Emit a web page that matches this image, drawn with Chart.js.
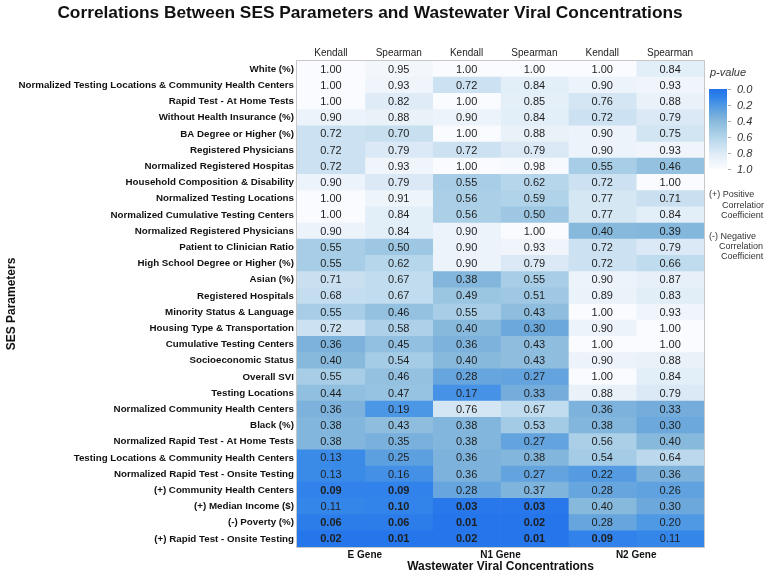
<!DOCTYPE html>
<html><head><meta charset="utf-8">
<script src="https://cdn.jsdelivr.net/npm/chart.js@4"></script>
<style>html,body{margin:0;padding:0;background:#fff}</style>
</head><body>
<canvas id="c" width="764" height="574" style="display:block;width:764px;height:574px"></canvas>
<script>
const rowLabels = [
  'White (%)',
  'Normalized Testing Locations & Community Health Centers',
  'Rapid Test - At Home Tests',
  'Without Health Insurance (%)',
  'BA Degree or Higher (%)',
  'Registered Physicians',
  'Normalized Registered Hospitas',
  'Household Composition & Disability',
  'Normalized Testing Locations',
  'Normalized Cumulative Testing Centers',
  'Normalized Registered Physicians',
  'Patient to Clinician Ratio',
  'High School Degree or Higher (%)',
  'Asian (%)',
  'Registered Hospitals',
  'Minority Status & Language',
  'Housing Type & Transportation',
  'Cumulative Testing Centers',
  'Socioeconomic Status',
  'Overall SVI',
  'Testing Locations',
  'Normalized Community Health Centers',
  'Black (%)',
  'Normalized Rapid Test - At Home Tests',
  'Testing Locations & Community Health Centers',
  'Normalized Rapid Test - Onsite Testing',
  '(+) Community Health Centers',
  '(+) Median Income ($)',
  '(-) Poverty (%)',
  '(+) Rapid Test - Onsite Testing'
];
const eKendall   = [1.00,1.00,1.00,0.90,0.72,0.72,0.72,0.90,1.00,1.00,0.90,0.55,0.55,0.71,0.68,0.55,0.72,0.36,0.40,0.55,0.44,0.36,0.38,0.38,0.13,0.13,0.09,0.11,0.06,0.02];
const eSpearman  = [0.95,0.93,0.82,0.88,0.70,0.79,0.93,0.79,0.91,0.84,0.84,0.50,0.62,0.67,0.67,0.46,0.58,0.45,0.54,0.46,0.47,0.19,0.43,0.35,0.25,0.16,0.09,0.10,0.06,0.01];
const n1Kendall  = [1.00,0.72,1.00,0.90,1.00,0.72,1.00,0.55,0.56,0.56,0.90,0.90,0.90,0.38,0.49,0.55,0.40,0.36,0.40,0.28,0.17,0.76,0.38,0.38,0.36,0.36,0.28,0.03,0.01,0.02];
const n1Spearman = [1.00,0.84,0.85,0.84,0.88,0.79,0.98,0.62,0.59,0.50,1.00,0.93,0.79,0.55,0.51,0.43,0.30,0.43,0.43,0.27,0.33,0.67,0.53,0.27,0.38,0.27,0.37,0.03,0.02,0.01];
const n2Kendall  = [1.00,0.90,0.76,0.72,0.90,0.90,0.55,0.72,0.77,0.77,0.40,0.72,0.72,0.90,0.89,1.00,0.90,1.00,0.90,1.00,0.88,0.36,0.38,0.56,0.54,0.22,0.28,0.40,0.28,0.09];
const n2Spearman = [0.84,0.93,0.88,0.79,0.75,0.93,0.46,1.00,0.71,0.84,0.39,0.79,0.66,0.87,0.83,0.93,1.00,1.00,0.88,0.84,0.79,0.33,0.30,0.40,0.64,0.36,0.26,0.30,0.20,0.11];
const methodLabels = ['Kendall','Spearman','Kendall','Spearman','Kendall','Spearman'];
const geneLabels = ['E Gene','N1 Gene','N2 Gene'];
const legendTicks = [0.0, 0.2, 0.4, 0.6, 0.8, 1.0];

const columns = [eKendall, eSpearman, n1Kendall, n1Spearman, n2Kendall, n2Spearman];
const FAMILY = '"Liberation Sans", Arial, Helvetica, sans-serif';

// colour scale stops (p-value -> rgb)
const stops = [
  [0.00,[35,115,235]],[0.10,[50,132,234]],[0.20,[78,152,228]],[0.30,[108,168,220]],
  [0.40,[135,185,220]],[0.50,[157,199,227]],[0.60,[178,212,234]],[0.70,[200,223,240]],
  [0.80,[220,234,246]],[0.90,[236,243,250]],[1.00,[249,251,254]]
];
function colorFor(v){
  v = Math.max(0, Math.min(1, v));
  for (let i=1;i<stops.length;i++){
    if (v <= stops[i][0]){
      const [a,ca]=stops[i-1],[b,cb]=stops[i];
      const t=(v-a)/(b-a);
      const c=ca.map((x,k)=>Math.round(x+(cb[k]-x)*t));
      return `rgb(${c[0]},${c[1]},${c[2]})`;
    }
  }
  return 'rgb(249,251,254)';
}

const heatPlugin = {
  id:'heat',
  afterDatasetsDraw(chart){
    const ctx = chart.ctx, ca = chart.chartArea;
    ctx.save();
    ctx.strokeStyle = '#c8c8c8'; ctx.lineWidth = 1;
    ctx.strokeRect(ca.left-0.5, ca.top-0.5, ca.right-ca.left+1, ca.bottom-ca.top+1);
    ctx.textAlign = 'center'; ctx.textBaseline = 'middle';
    chart.data.datasets.forEach((ds, di) => {
      const meta = chart.getDatasetMeta(di);
      meta.data.forEach((el, i) => {
        const v = ds.pValues[i];
        ctx.font = (v <= 0.10 ? 'bold ' : '') + '11px ' + FAMILY;
        ctx.fillStyle = '#1e1e1e';
        ctx.fillText(v.toFixed(2), (el.x + el.base)/2, el.y + 0.5);
      });
    });
    ctx.restore();
  },
  afterDraw(chart){
    const ctx = chart.ctx, ca = chart.chartArea;
    ctx.save();
    // title
    ctx.fillStyle = '#111';
    ctx.font = 'bold 17.3px ' + FAMILY;
    ctx.textAlign = 'center'; ctx.textBaseline = 'middle';
    ctx.fillText('Correlations Between SES Parameters and Wastewater Viral Concentrations', chart.width/2 - 12, 13);
    // legend
    const lx = ca.right + 5;
    ctx.textAlign = 'left';
    ctx.font = 'italic 11px ' + FAMILY;
    ctx.fillStyle = '#333';
    ctx.fillText('p-value', lx + 1, ca.top + 12);
    const barTop = ca.top + 28, barH = 80, barW = 18;
    for (let k = 0; k < barH; k++){
      ctx.fillStyle = colorFor(k/(barH-1));
      ctx.fillRect(lx, barTop + k, barW, 1);
    }
    ctx.strokeStyle = '#aaa'; ctx.lineWidth = 1;
    ctx.font = 'italic 11px ' + FAMILY;
    ctx.fillStyle = '#333';
    legendTicks.forEach(t => {
      const y = barTop + t*barH;
      ctx.beginPath(); ctx.moveTo(lx+barW+1, Math.round(y)+0.5); ctx.lineTo(lx+barW+4, Math.round(y)+0.5); ctx.stroke();
      ctx.fillText(t.toFixed(1), lx + 28, y + 0.5);
    });
    // annotations
    ctx.font = '9px ' + FAMILY;
    ctx.fillStyle = '#333';
    const notes = [
      ['(+) Positive', 0, 134], ['Correlation', 13, 145], ['Coefficient', 12, 155],
      ['(-) Negative', 0, 176], ['Correlation', 10, 186], ['Coefficient', 12, 196]
    ];
    notes.forEach(([t, dx, dy]) => ctx.fillText(t, lx + dx, ca.top + dy));
    ctx.restore();
  }
};

new Chart(document.getElementById('c'), {
  type: 'bar',
  data: {
    labels: rowLabels,
    datasets: columns.map((vals, j) => ({
      label: methodLabels[j],
      data: vals.map(() => [j, j + 1]),
      pValues: vals,
      backgroundColor: vals.map(colorFor),
      borderWidth: 0,
      grouped: false,
      barPercentage: 1,
      categoryPercentage: 1
    }))
  },
  options: {
    indexAxis: 'y',
    responsive: false,
    animation: false,
    layout: { padding: { top: 0, right: 60, bottom: 0, left: 0 } },
    plugins: { legend: { display: false }, tooltip: { enabled: false }, title: { display: false } },
    scales: {
      y: {
        type: 'category',
        position: 'left',
        grid: { display: false, drawTicks: false },
        border: { display: false },
        ticks: { autoSkip: false, padding: 3, color: '#111', font: { family: FAMILY, size: 9.75, weight: 'bold' } },
        title: { display: true, text: 'SES Parameters', color: '#111', font: { family: FAMILY, size: 12, weight: 'bold' }, padding: { top: 4, bottom: 4 } },
        afterFit: s => { s.width = 297; }
      },
      x: {
        type: 'linear',
        position: 'bottom',
        min: 0, max: 6,
        grid: { display: false, drawTicks: false },
        border: { display: false },
        afterBuildTicks: s => { s.ticks = geneLabels.map((g, i) => ({ value: 2*i + 1 })); },
        ticks: { autoSkip: false, maxRotation: 0, padding: 2, color: '#111', font: { family: FAMILY, size: 10, weight: 'bold' }, callback: (v, i) => geneLabels[i] },
        title: { display: true, text: 'Wastewater Viral Concentrations', color: '#111', font: { family: FAMILY, size: 12, weight: 'bold' }, padding: { top: 0, bottom: 0 } },
        afterFit: s => { s.height = 27; }
      },
      x2: {
        type: 'linear',
        axis: 'x',
        position: 'top',
        min: 0, max: 6,
        grid: { display: false, drawTicks: false },
        border: { display: false },
        afterBuildTicks: s => { s.ticks = methodLabels.map((m, i) => ({ value: i + 0.5 })); },
        ticks: { autoSkip: false, maxRotation: 0, padding: 2, color: '#222', font: { family: FAMILY, size: 10 }, callback: (v, i) => methodLabels[i] },
        afterFit: s => { s.height = 61; }
      }
    }
  },
  plugins: [heatPlugin]
});
</script>
</body></html>
